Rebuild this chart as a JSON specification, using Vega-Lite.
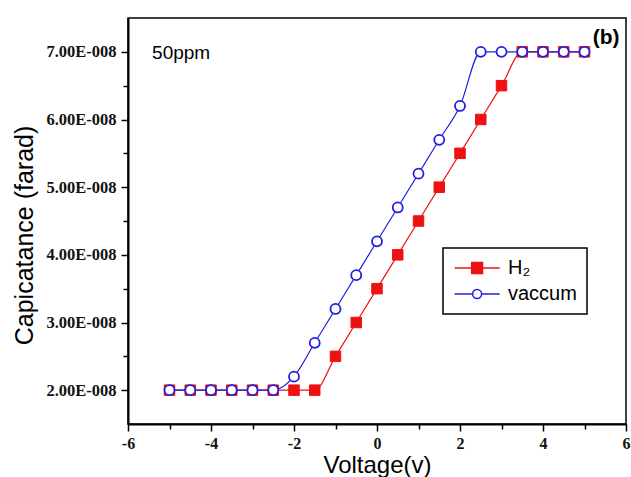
{
  "$schema": "https://vega.github.io/schema/vega-lite/v6.json",
  "width": 498,
  "height": 406,
  "autosize": {"type": "none"},
  "padding": {"left": 128, "top": 18, "right": 5, "bottom": 53},
  "background": "white",
  "config": {
    "view": {"stroke": "black", "strokeWidth": 1.5},
    "font": "Liberation Sans"
  },
  "datasets": {
    "cv": [
      {"series": "H₂", "voltage": -5, "capacitance": 2.0e-8},
      {"series": "H₂", "voltage": -4.5, "capacitance": 2.0e-8},
      {"series": "H₂", "voltage": -4, "capacitance": 2.0e-8},
      {"series": "H₂", "voltage": -3.5, "capacitance": 2.0e-8},
      {"series": "H₂", "voltage": -3, "capacitance": 2.0e-8},
      {"series": "H₂", "voltage": -2.5, "capacitance": 2.0e-8},
      {"series": "H₂", "voltage": -2, "capacitance": 2.0e-8},
      {"series": "H₂", "voltage": -1.5, "capacitance": 2.0e-8},
      {"series": "H₂", "voltage": -1, "capacitance": 2.5e-8},
      {"series": "H₂", "voltage": -0.5, "capacitance": 3.0e-8},
      {"series": "H₂", "voltage": 0, "capacitance": 3.5e-8},
      {"series": "H₂", "voltage": 0.5, "capacitance": 4.0e-8},
      {"series": "H₂", "voltage": 1, "capacitance": 4.5e-8},
      {"series": "H₂", "voltage": 1.5, "capacitance": 5.0e-8},
      {"series": "H₂", "voltage": 2, "capacitance": 5.5e-8},
      {"series": "H₂", "voltage": 2.5, "capacitance": 6.0e-8},
      {"series": "H₂", "voltage": 3, "capacitance": 6.5e-8},
      {"series": "H₂", "voltage": 3.5, "capacitance": 7.0e-8},
      {"series": "H₂", "voltage": 4, "capacitance": 7.0e-8},
      {"series": "H₂", "voltage": 4.5, "capacitance": 7.0e-8},
      {"series": "H₂", "voltage": 5, "capacitance": 7.0e-8},
      {"series": "vaccum", "voltage": -5, "capacitance": 2.0e-8},
      {"series": "vaccum", "voltage": -4.5, "capacitance": 2.0e-8},
      {"series": "vaccum", "voltage": -4, "capacitance": 2.0e-8},
      {"series": "vaccum", "voltage": -3.5, "capacitance": 2.0e-8},
      {"series": "vaccum", "voltage": -3, "capacitance": 2.0e-8},
      {"series": "vaccum", "voltage": -2.5, "capacitance": 2.0e-8},
      {"series": "vaccum", "voltage": -2, "capacitance": 2.2e-8},
      {"series": "vaccum", "voltage": -1.5, "capacitance": 2.7e-8},
      {"series": "vaccum", "voltage": -1, "capacitance": 3.2e-8},
      {"series": "vaccum", "voltage": -0.5, "capacitance": 3.7e-8},
      {"series": "vaccum", "voltage": 0, "capacitance": 4.2e-8},
      {"series": "vaccum", "voltage": 0.5, "capacitance": 4.7e-8},
      {"series": "vaccum", "voltage": 1, "capacitance": 5.2e-8},
      {"series": "vaccum", "voltage": 1.5, "capacitance": 5.7e-8},
      {"series": "vaccum", "voltage": 2, "capacitance": 6.2e-8},
      {"series": "vaccum", "voltage": 2.5, "capacitance": 7.0e-8},
      {"series": "vaccum", "voltage": 3, "capacitance": 7.0e-8},
      {"series": "vaccum", "voltage": 3.5, "capacitance": 7.0e-8},
      {"series": "vaccum", "voltage": 4, "capacitance": 7.0e-8},
      {"series": "vaccum", "voltage": 4.5, "capacitance": 7.0e-8},
      {"series": "vaccum", "voltage": 5, "capacitance": 7.0e-8}
    ],
    "notes": [
      {"label": "50ppm", "voltage": -5.42, "capacitance": 6.89e-8, "kind": "tag"},
      {"label": "(b)", "voltage": 5.52, "capacitance": 7.2e-8, "kind": "panel"}
    ]
  },
  "encoding": {
    "x": {
      "field": "voltage",
      "type": "quantitative",
      "scale": {"domain": [-6, 6], "nice": false, "zero": false},
      "axis": {
        "title": "Voltage(v)",
        "titleFont": "Liberation Sans",
        "titleFontSize": 24,
        "titleFontWeight": "normal",
        "titleColor": "black",
        "titleBaseline": "alphabetic",
        "titleY": 48,
        "values": [-6, -5, -4, -3, -2, -1, 0, 1, 2, 3, 4, 5, 6],
        "labelExpr": "datum.value % 2 === 0 ? '' + datum.value : ''",
        "labelFont": "Liberation Serif",
        "labelFontSize": 16,
        "labelFontWeight": "bold",
        "labelColor": "#111111",
        "labelPadding": 4,
        "labelFlush": false,
        "labelOverlap": false,
        "grid": false,
        "domainColor": "black",
        "domainWidth": 2,
        "tickColor": "black",
        "tickWidth": 1.5,
        "tickSize": {"condition": {"test": "datum.value % 2 === 0", "value": 7}, "value": 5}
      }
    },
    "y": {
      "field": "capacitance",
      "type": "quantitative",
      "scale": {"domain": [1.5e-8, 7.5e-8], "nice": false, "zero": false},
      "axis": {
        "title": "Capicatance (farad)",
        "titleFont": "Liberation Sans",
        "titleFontSize": 25,
        "titleFontWeight": "normal",
        "titleColor": "black",
        "titleX": -104,
        "titleY": 217,
        "titleBaseline": "middle",
        "titleAlign": "center",
        "values": [2e-8, 2.5e-8, 3e-8, 3.5e-8, 4e-8, 4.5e-8, 5e-8, 5.5e-8, 6e-8, 6.5e-8, 7e-8],
        "labelExpr": "abs(datum.value * 1e8 - round(datum.value * 1e8)) < 0.01 ? format(datum.value * 1e8, '.2f') + 'E-008' : ''",
        "labelFont": "Liberation Serif",
        "labelFontSize": 16.5,
        "labelFontWeight": "bold",
        "labelColor": "#111111",
        "labelPadding": 5,
        "labelOverlap": false,
        "grid": false,
        "domainColor": "black",
        "domainWidth": 2,
        "tickColor": "black",
        "tickWidth": 1.5,
        "tickSize": {"condition": {"test": "abs(datum.value * 1e8 - round(datum.value * 1e8)) < 0.01", "value": 7}, "value": 5}
      }
    }
  },
  "layer": [
    {
      "data": {"name": "cv"},
      "mark": {"type": "line", "interpolate": "monotone", "strokeWidth": 1.2},
      "encoding": {
        "color": {
          "field": "series",
          "type": "nominal",
          "scale": {"domain": ["H₂", "vaccum"], "range": ["#ee1111", "#1f1fe0"]},
          "legend": {
            "title": null,
            "orient": "none",
            "legendX": 315,
            "legendY": 230,
            "padding": 10,
            "strokeColor": "black",
            "fillColor": "white",
            "labelFont": "Liberation Sans",
            "labelFontSize": 20,
            "labelColor": "black",
            "labelOffset": 35,
            "symbolSize": 144,
            "rowPadding": 6,
            "symbolStrokeWidth": 1.5,
            "encode": {
              "legend": {"update": {"strokeWidth": {"value": 1.5}}},
              "symbols": {
                "update": {
                  "shape": {"signal": "datum.value === 'H₂' ? 'M-1.4,0H1.45M3.25,0H6.1M1.45,-0.9H3.25V0.9H1.45Z' : 'M-1.4,0H1.6M3.1,0H6.1M1.6,0A0.75,0.75,0,1,1,3.1,0A0.75,0.75,0,1,1,1.6,0Z'"},
                  "fill": {"signal": "datum.value === 'H₂' ? '#ee1111' : 'white'"},
                  "stroke": {"signal": "datum.value === 'H₂' ? '#ee1111' : '#1f1fe0'"},
                  "strokeWidth": {"value": 1.5},
                  "opacity": {"value": 1}
                }
              }
            }
          }
        }
      }
    },
    {
      "data": {"name": "cv"},
      "transform": [{"filter": "datum.series === 'H₂'"}],
      "mark": {"type": "point", "shape": "square", "filled": true, "fill": "#ee1111", "stroke": "#ee1111", "size": 110, "strokeWidth": 1, "opacity": 1}
    },
    {
      "data": {"name": "cv"},
      "transform": [{"filter": "datum.series === 'vaccum'"}],
      "mark": {"type": "point", "shape": "circle", "filled": true, "fill": "white", "stroke": "#1f1fe0", "size": 100, "strokeWidth": 1.8, "opacity": 1}
    },
    {
      "data": {"name": "notes"},
      "transform": [{"filter": "datum.kind === 'tag'"}],
      "mark": {"type": "text", "align": "left", "baseline": "alphabetic", "font": "Liberation Sans", "fontSize": 19, "color": "black"},
      "encoding": {"text": {"field": "label"}}
    },
    {
      "data": {"name": "notes"},
      "transform": [{"filter": "datum.kind === 'panel'"}],
      "mark": {"type": "text", "align": "center", "baseline": "middle", "font": "Liberation Sans", "fontSize": 21, "fontWeight": "bold", "color": "black"},
      "encoding": {"text": {"field": "label"}}
    }
  ]
}
